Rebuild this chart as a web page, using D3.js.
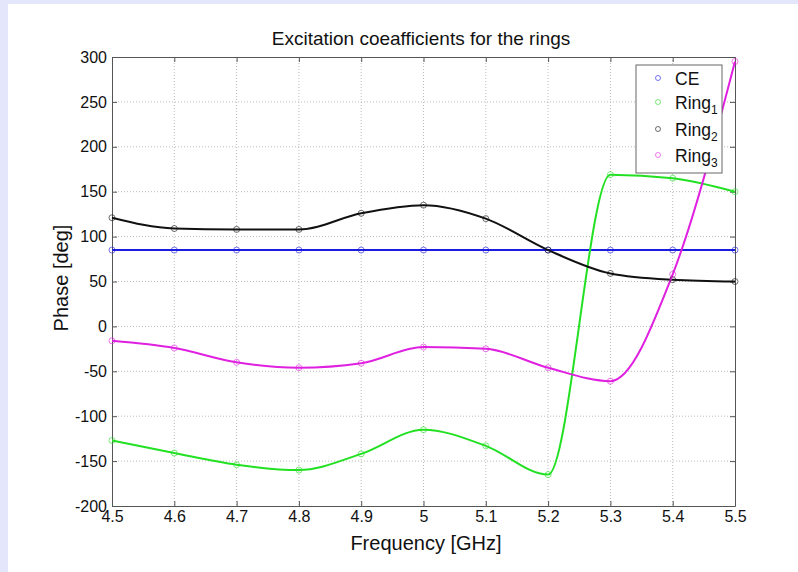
<!DOCTYPE html>
<html>
<head>
<meta charset="utf-8">
<style>
  body { margin: 0; background: #e4e7fb; }
  svg { display: block; }
  text { font-family: "Liberation Sans", Arial, sans-serif; fill: #111; }
</style>
</head>
<body>
<svg width="798" height="572"></svg>
<script src="https://d3js.org/d3.v7.min.js"></script>
<script>

const freq = [4.5, 4.6, 4.7, 4.8, 4.9, 5.0, 5.1, 5.2, 5.3, 5.4, 5.5];
const ce    = [85, 85, 85, 85, 85, 85, 85, 85, 85, 85, 85];
const ring1 = [-127, -141, -154, -160, -142, -115, -133, -165, 169, 165, 150];
const ring2 = [121, 109, 108, 108, 126, 135, 120, 85, 59, 52, 50];
const ring3 = [-16, -24, -40, -46, -41, -23, -25, -46, -61, 58, 295];

const xTicks = [4.5, 4.6, 4.7, 4.8, 4.9, 5, 5.1, 5.2, 5.3, 5.4, 5.5];
const yTicks = [-200, -150, -100, -50, 0, 50, 100, 150, 200, 250, 300];

const series = [
  { name: "CE", sub: "", values: ce, color: "#1c1ce0" },
  { name: "Ring", sub: "1", values: ring1, color: "#22e022" },
  { name: "Ring", sub: "2", values: ring2, color: "#111111" },
  { name: "Ring", sub: "3", values: ring3, color: "#e020e0" },
];

const svg = d3.select("svg");

// white figure area (lavender shows at left and top)
svg.append("rect")
  .attr("x", 8).attr("y", 4)
  .attr("width", 790).attr("height", 568)
  .attr("fill", "#fff");

const mLeft = 112, mRight = 735, mTop = 57, mBottom = 506;

const x = d3.scaleLinear().domain([4.5, 5.5]).range([mLeft, mRight]);
const y = d3.scaleLinear().domain([-200, 300]).range([mBottom, mTop]);

// grid
const grid = svg.append("g")
  .attr("stroke", "#bbb")
  .attr("stroke-width", 1)
  .attr("stroke-dasharray", "1,2");

grid.selectAll("line.v")
  .data(xTicks.slice(1, -1))
  .enter()
  .append("line")
  .attr("x1", d => x(d)).attr("x2", d => x(d))
  .attr("y1", mTop).attr("y2", mBottom);

grid.selectAll("line.h")
  .data(yTicks.slice(1, -1))
  .enter()
  .append("line")
  .attr("x1", mLeft).attr("x2", mRight)
  .attr("y1", d => y(d)).attr("y2", d => y(d));

// axes with inward ticks
const axisColor = "#555";
const plainNum = d => String(d);
const xAxisB = svg.append("g")
  .attr("transform", `translate(0,${mBottom})`)
  .call(d3.axisBottom(x).tickValues(xTicks).tickSizeInner(-5).tickSizeOuter(0).tickPadding(8)
    .tickFormat(plainNum));
const xAxisT = svg.append("g")
  .attr("transform", `translate(0,${mTop})`)
  .call(d3.axisTop(x).tickValues(xTicks).tickSizeInner(-5).tickSizeOuter(0).tickFormat(""));
const yAxisL = svg.append("g")
  .attr("transform", `translate(${mLeft},0)`)
  .call(d3.axisLeft(y).tickValues(yTicks).tickSizeInner(-5).tickSizeOuter(0).tickPadding(5)
    .tickFormat(plainNum));
const yAxisR = svg.append("g")
  .attr("transform", `translate(${mRight},0)`)
  .call(d3.axisRight(y).tickValues(yTicks).tickSizeInner(-5).tickSizeOuter(0).tickFormat(""));

[xAxisB, xAxisT, yAxisL, yAxisR].forEach(a => {
  a.selectAll("path").attr("stroke", axisColor);
  a.selectAll("line").attr("stroke", axisColor);
  a.selectAll("text")
    .attr("font-family", "Liberation Sans, Arial, sans-serif")
    .attr("font-size", 16)
    .attr("fill", "#222");
});
xAxisB.selectAll("text").attr("dy", "0.5em");

// lines
const line = d3.line()
  .x((d, i) => x(freq[i]))
  .y(d => y(d))
  .curve(d3.curveMonotoneX);

const plot = svg.append("g");

plot.selectAll("path")
  .data(series)
  .enter()
  .append("path")
  .attr("fill", "none")
  .attr("stroke", d => d.color)
  .attr("stroke-width", 2)
  .attr("d", d => line(d.values));

series.forEach(s => {
  plot.append("g")
    .selectAll("circle")
    .data(s.values)
    .enter()
    .append("circle")
    .attr("cx", (d, i) => x(freq[i]))
    .attr("cy", d => y(d))
    .attr("r", 3)
    .attr("fill", "none")
    .attr("stroke", s.color)
    .attr("stroke-opacity", 0.6)
    .attr("stroke-width", 1);
});

// legend
const legend = svg.append("g");
legend.append("rect")
  .attr("x", 636).attr("y", 65)
  .attr("width", 86).attr("height", 108)
  .attr("fill", "#fff")
  .attr("stroke", "#666")
  .attr("stroke-width", 1);

const legY = [85, 109, 136, 162];
series.forEach((s, i) => {
  legend.append("circle")
    .attr("cx", 658).attr("cy", legY[i] - 7)
    .attr("r", 2.5)
    .attr("fill", "none")
    .attr("stroke", s.color)
    .attr("stroke-opacity", 0.6);
  const t = legend.append("text")
    .attr("x", 675).attr("y", legY[i])
    .attr("font-size", 17.5);
  t.append("tspan").text(s.name);
  if (s.sub) {
    t.append("tspan").attr("font-size", 12).attr("dy", 5).text(s.sub);
  }
});

// titles
svg.append("text")
  .attr("x", 421).attr("y", 45)
  .attr("text-anchor", "middle")
  .attr("font-size", 19)
  .text("Excitation coeafficients for the rings");

svg.append("text")
  .attr("x", 426).attr("y", 550)
  .attr("text-anchor", "middle")
  .attr("font-size", 20)
  .text("Frequency [GHz]");

svg.append("text")
  .attr("transform", "translate(68,278) rotate(-90)")
  .attr("text-anchor", "middle")
  .attr("font-size", 20)
  .text("Phase [deg]");

</script>
</body>
</html>
